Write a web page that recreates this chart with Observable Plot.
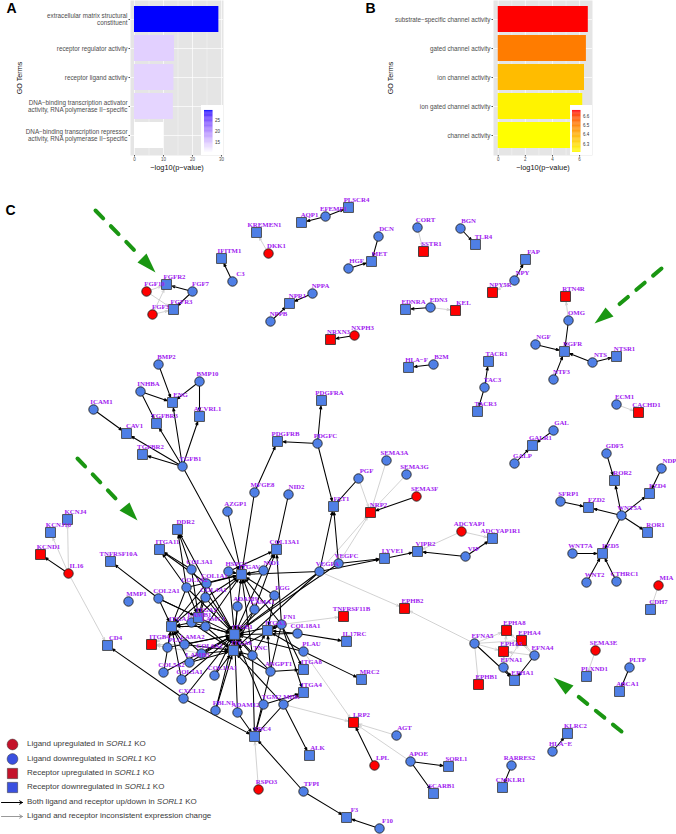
<!DOCTYPE html>
<html>
<head>
<meta charset="utf-8">
<script src="https://cdn.jsdelivr.net/npm/d3@7"></script>
<script src="https://cdn.jsdelivr.net/npm/@observablehq/plot@0.6"></script>
<style>
html,body{margin:0;padding:0;background:#fff;}
#page{position:relative;width:676px;height:834px;overflow:hidden;font-family:"Liberation Sans",Arial,sans-serif;}
#page svg{display:block;background:transparent;}
.abs{position:absolute;}
.lg{position:absolute;left:27px;font-size:7.97px;line-height:10px;color:#3a3a3a;white-space:nowrap;}
</style>
</head>
<body>
<div id="page"></div>
<script>
// ---------- Panel A ----------
const termsA = ["extracellular matrix structural\nconstituent","receptor regulator activity","receptor ligand activity","DNA\u2212binding transcription activator\nactivity, RNA polymerase II\u2212specific","DNA\u2212binding transcription repressor\nactivity, RNA polymerase II\u2212specific"];
const valuesA = [29.1,13.8,13.6,13.4,10.1];
const ticksA = [0,10,20,30];
const gridMinorA = [5,15,25];
const legendTicksA = [15,20,25];
// ---------- Panel B ----------
const termsB = ["substrate\u2212specific channel activity","gated channel activity","ion channel activity","ion gated channel activity","channel activity"];
const valuesB = [6.64,6.5,6.36,6.23,6.2];
const ticksB = [0,2,4,6];
const gridMinorB = [1,3,5];
const legendTicksB = [6.3,6.4,6.5,6.6];
// ---------- Panel C: nodes [name, x, y] ----------
const ligandsUp = [["FGF10",146,291],["FGF3",152,314],["DKK1",268,253],["NXPH3",354,335],["IL16",68,573],["SEMA3F",416,496],["ADCYAP1",461,531],["MIA",658,585],["SEMA3E",595,650],["LPL",374,765],["RSPO3",258,789]];
const ligandsDown = [["FGF7",192,291],["C3",232,281],["EFEMP1",325,216],["NPPA",312,293],["NPPB",270,321],["BMP2",158,364],["BMP10",199,381],["INHBA",140,391],["ICAM1",93,409],["TGFB1",182,466],["COL3A1",191,569],["COL1A1",206,583],["COL1A2",186,587],["COL2A1",158,598],["COL4A1",205,597],["MMP1",128,601],["HSPG2",228,571],["NID1",263,570],["AZGP1",227,511],["MFGE8",254,492],["NID2",288,494],["PDGFC",317,443],["PGF",358,478],["SEMA3A",386,460],["SEMA3G",406,474],["VEGFA",319,571],["VEGFC",338,563],["VIP",465,556],["FGG",274,595],["ADAM9",237,606],["LAMA1",254,609],["FN1",281,624],["LAMB1",191,622],["LAMC1",205,626],["LAMA2",184,644],["PLG",167,647],["COL6A2",201,653],["LAMB3",189,662],["COL5A2",163,672],["COL5A1",181,679],["COL11A1",214,675],["TNC",252,655],["ANGPT1",270,671],["COL18A1",297,633],["PLAU",303,651],["MDK",283,704],["TGM2",263,704],["ADAM12",237,712],["FBLN1",215,710],["CXCL12",183,698],["TFPI",303,791],["F10",379,828],["EFNA5",474,643],["EFNA4",534,655],["EFNA1",503,667],["PLTP",629,667],["HLA\u2212E",552,751],["RARRES2",511,765],["AGT",396,735],["APOE",410,761],["DCN",378,236],["HGF",348,268],["CORT",417,227],["BGN",460,228],["NPY",514,280],["OMG",568,320],["NGF",535,344],["NTF3",553,379],["NTS",592,362],["EDN3",430,307],["B2M",433,364],["TAC3",484,387],["ECM1",616,404],["GAL",553,430],["GALP",514,463],["GDF5",606,453],["NDP",661,468],["SFRP1",560,501],["WNT5A",621,515],["WNT7A",572,553],["WNT2",586,582],["CTHRC1",616,581]];
const receptorsUp = [["SSTR1",423,251],["NRXN3",330,339],["KEL",455,310],["NPY5R",492,292],["RTN4R",565,296],["CACHD1",638,412],["KCND1",40,554],["NRP2",370,512],["TNFRSF11B",343,616],["EPHB2",404,608],["ITGB4",151,644],["LRP2",353,722],["EPHA8",506,630],["EPHA4",521,640],["EPHA5",503,651],["EPHB1",478,684]];
const receptorsDown = [["FGFR2",166,284],["FGFR3",173,309],["KREMEN1",256,232],["IFITM1",221,258],["AQP1",301,222],["PLSCR4",348,207],["NPR1",289,303],["ENG",172,402],["PDGFRA",321,400],["ACVRL1",199,416],["TGFBR3",156,423],["CAV1",126,433],["TGFBR2",142,454],["KCNJ4",67,519],["KCNJ10",50,532],["TNFRSF10A",110,561],["DDR2",177,529],["ITGA11",159,549],["ITGAV",241,574],["COL13A1",276,549],["PDGFRB",277,441],["FLT1",333,506],["LYVE1",384,558],["VIPR2",417,551],["ADCYAP1R1",492,538],["ITGA2",198,617],["ITGA1",171,626],["ITGB1",234,634],["ITGA3",267,630],["ITGA6",233,650],["IL17RC",346,641],["MRC2",361,679],["ITGA8",303,669],["ITGA4",303,692],["SDC4",254,736],["ALK",309,755],["F3",346,817],["CD4",107,645],["EPHA1",514,680],["PLXND1",586,676],["ABCA1",619,691],["KLRC2",567,733],["CMKLR1",502,787],["SORL1",448,766],["SCARB1",433,793],["MET",371,261],["TLR4",475,244],["FAP",525,259],["NGFR",564,351],["NTSR1",616,356],["EDNRA",405,309],["HLA\u2212F",408,367],["TACR1",488,361],["TACR3",477,411],["GALR1",532,445],["ROR2",614,480],["FZD4",649,493],["FZD2",588,507],["ROR1",647,532],["FZD5",602,553],["CDH7",650,609]];
// ---------- Panel C: interactions [ligand, receptors] ----------
const consistentLinks = [["FGF7","FGFR2 FGFR3"],["C3","IFITM1"],["EFEMP1","AQP1 PLSCR4"],["NPPA","NPR1"],["NPPB","NPR1"],["NXPH3","NRXN3"],["BMP2","ENG"],["BMP10","ENG ACVRL1"],["INHBA","ENG TGFBR3"],["ICAM1","CAV1"],["TGFB1","ENG TGFBR3 ACVRL1 CAV1 TGFBR2 ITGAV"],["PDGFC","PDGFRA PDGFRB FLT1"],["MFGE8","PDGFRB ITGAV"],["AZGP1","ITGAV"],["NID2","COL13A1"],["PGF","FLT1"],["SEMA3F","NRP2"],["VEGFA","ITGAV FLT1 LYVE1 ITGB1 ITGA6"],["VEGFC","FLT1 LYVE1 ITGB1"],["LYVE1","VIPR2"],["VIP","VIPR2 ADCYAP1R1"],["GDF5","ROR2"],["WNT5A","ROR2 FZD4 FZD2 ROR1 FZD5"],["NDP","FZD4"],["SFRP1","FZD2"],["WNT7A","FZD5"],["WNT2","FZD5"],["CTHRC1","FZD5"],["GAL","GALR1"],["GALP","GALR1"],["DCN","MET"],["HGF","MET"],["BGN","TLR4"],["NPY","FAP"],["OMG","NGFR"],["NGF","NGFR"],["NTF3","NGFR"],["NTS","NGFR NTSR1"],["EDN3","EDNRA"],["B2M","HLA\u2212F"],["TAC3","TACR1 TACR3"],["IL16","KCND1"],["TFPI","SDC4 F3"],["F10","F3"],["LPL","LRP2"],["APOE","SORL1 SCARB1"],["EFNA5","EPHA1"],["EFNA1","EPHA1"],["EFNA4","EPHA1"],["PLTP","ABCA1"],["HLA\u2212E","KLRC2"],["RARRES2","CMKLR1"],["COL3A1","DDR2 ITGA11 ITGB1 ITGA2"],["COL1A1","DDR2 ITGA11 ITGAV ITGB1 ITGA2 ITGA1"],["COL1A2","DDR2 ITGA11 ITGAV ITGB1 ITGA2 ITGA1"],["COL2A1","TNFRSF10A ITGA1 ITGA2 ITGB1"],["COL4A1","ITGAV ITGB1 ITGA2 ITGA1"],["HSPG2","ITGAV ITGB1 COL13A1"],["NID1","ITGAV ITGB1 COL13A1"],["ADAM9","ITGAV ITGB1 ITGA6"],["LAMA1","ITGAV ITGB1 ITGA6 COL13A1"],["LAMB1","ITGA1 ITGA2 ITGB1 ITGA6 ITGAV"],["LAMC1","ITGA1 ITGA2 ITGB1 ITGA6 ITGAV"],["FGG","ITGAV ITGB1 ITGA3"],["FN1","ITGAV ITGB1 ITGA3 ITGA4 ITGA8 SDC4 COL13A1 ITGA6"],["PLAU","ITGB1 ITGA3 MRC2"],["COL18A1","ITGB1 ITGA3 IL17RC"],["LAMA2","ITGB1 ITGA1 ITGA6"],["PLG","ITGB1 ITGA1"],["COL6A2","ITGB1 ITGA1 ITGA6"],["LAMB3","ITGB1 ITGA1 ITGA6"],["COL5A2","ITGA1 ITGB1"],["COL5A1","ITGA1 ITGB1"],["COL11A1","ITGB1 ITGA6"],["TNC","ITGB1 ITGAV ITGA6 SDC4 ITGA3"],["ANGPT1","ITGB1 ITGA3 ITGA6 ITGA8"],["CXCL12","ITGB1 SDC4 CD4"],["FBLN1","ITGA6 ITGB1"],["ADAM12","ITGB1 SDC4"],["TGM2","ITGA4 ITGB1 SDC4"],["MDK","ITGA4 ITGA6 SDC4 ALK"]];
const inconsistentLinks = [["FGF10","FGFR2 FGFR3"],["FGF3","FGFR2 FGFR3"],["DKK1","KREMEN1"],["CORT","SSTR1"],["NPY","NPY5R"],["OMG","RTN4R"],["EDN3","KEL"],["ECM1","CACHD1"],["IL16","KCNJ4 KCNJ10 CD4"],["MIA","CDH7"],["SEMA3E","PLXND1"],["PGF","NRP2"],["SEMA3A","NRP2"],["SEMA3G","NRP2"],["VEGFA","NRP2 EPHB2"],["VEGFC","NRP2"],["EFNA5","EPHB2 EPHA8 EPHA4 EPHA5 EPHB1"],["EFNA1","EPHA8 EPHA4 EPHA5"],["EFNA4","EPHA8 EPHA4 EPHA5"],["ADCYAP1","ADCYAP1R1 VIPR2"],["RSPO3","SDC4"],["MDK","LRP2"],["PLAU","LRP2"],["AGT","LRP2"],["APOE","LRP2"],["FN1","TNFRSF11B"],["LAMA2","ITGB4"],["PLG","ITGB4"],["LAMB1","ITGB4"],["COL6A2","ITGB4"]];
// ---------- Annotations and legend ----------
const greenDashes = [["a",95,210],["a",137,253],["b",661,268],["b",615,307],["c",77,458],["c",119,502],["d",621,731],["d",574,693]];
const greenHeads = [["a",137,262],["a",146,253],["a",155,272],["b",594,323],["b",605,307],["b",613,316],["c",119,510],["c",129,502],["c",137,520],["d",553,677],["d",573,685],["d",565,694]];
const legendLabels = [["Ligand upregulated in ","SORL1"," KO"],["Ligand downregulated in ","SORL1"," KO"],["Receptor upregulated in ","SORL1"," KO"],["Receptor downregulated in ","SORL1"," KO"],["Both ligand and receptor up/down in ","SORL1"," KO"],["Ligand and receptor inconsistent expression change","",""]];
const legendRows = [744,758.5,773,787,802,816];

const sans = '"Liberation Sans",Arial,sans-serif';
const page = document.getElementById("page");
function place(el,left,top){el.classList.add("abs");el.style.left=left+"px";el.style.top=top+"px";page.appendChild(el);}

function colorbar(ticks,domain,colorDomain,range,fmt,mL){
  const lo=domain[0],hi=domain[1],step=(hi-lo)/50;
  return Plot.plot({
    width:22,height:50,marginTop:5,marginBottom:3,marginLeft:mL,marginRight:22-mL-8.5,
    style:{background:"#fff"},
    x:{domain:[0,1],axis:null},
    y:{domain,axis:null},
    color:{type:"linear",domain:colorDomain,range,interpolate:"lab",clamp:true},
    marks:[
      Plot.rect(d3.range(50).map(i=>lo+i*step),{x1:0,x2:1,y1:d=>d,y2:d=>d+step*1.05,fill:d=>d}),
      Plot.axisY({anchor:"right",ticks,tickSize:0,tickPadding:2,tickFormat:fmt,fontSize:4.5,fontFamily:sans,color:"#333",label:null})
    ]
  });
}

function barPanel({terms,values,ticks,minor,xDomain,width,marginLeft,titleX,letter,letterDx,colorDomain,colorRange}){
  const rows=terms.map((t,i)=>({t,v:values[i]}));
  return Plot.plot({
    width,height:172,marginTop:0,marginBottom:17,marginLeft,marginRight:0,
    style:{background:"transparent",overflow:"visible"},
    x:{domain:xDomain,axis:null},
    y:{domain:terms,paddingInner:0.1,paddingOuter:0.15,axis:null},
    color:{type:"linear",domain:colorDomain,range:colorRange,interpolate:"lab",clamp:true},
    marks:[
      Plot.frame({fill:"#e5e5e5",stroke:"none"}),
      Plot.ruleX(minor,{stroke:"#fff",strokeWidth:0.35}),
      Plot.ruleX(ticks,{stroke:"#fff",strokeWidth:0.7}),
      Plot.ruleY(terms,{stroke:"#fff",strokeWidth:0.7}),
      Plot.barX(rows,{x:"v",y:"t",fill:"v"}),
      Plot.axisX({ticks,tickSize:1.5,tickPadding:1,fontSize:4.5,fontFamily:sans,color:"#4d4d4d",stroke:"#555",label:null}),
      Plot.axisY({tickSize:1.5,tickPadding:1.5,fontSize:6.3,lineHeight:1.15,fontFamily:sans,color:"#4d4d4d",stroke:"#555",label:null}),
      Plot.text(["GO Terms"],{frameAnchor:"left",dx:titleX-marginLeft,rotate:-90,textAnchor:"middle",text:d=>d,fontSize:7.2,fontFamily:sans,fill:"#111"}),
      Plot.text(["\u2212log10(p\u2212value)"],{frameAnchor:"bottom",lineAnchor:"middle",dy:12,text:d=>d,fontSize:7.4,fontFamily:sans,fill:"#111"}),
      Plot.text([letter],{frameAnchor:"top-left",dx:letterDx,dy:3,text:d=>d,fontSize:14,fontWeight:700,fontFamily:sans,fill:"#000",lineAnchor:"top"})
    ]
  });
}

place(barPanel({terms:termsA,values:valuesA,ticks:ticksA,minor:gridMinorA,xDomain:[-1.38,30.7],width:223,marginLeft:130,titleX:19,letter:"A",letterDx:-124,colorDomain:[10.1,29.1],colorRange:["#ffffff","#0000ff"]}),0,0);
place(barPanel({terms:termsB,values:valuesB,ticks:ticksB,minor:gridMinorB,xDomain:[-0.35,6.95],width:252,marginLeft:153,titleX:50,letter:"B",letterDx:-128,colorDomain:[6.2,6.64],colorRange:["#ffff00","#ff0000"]}),340,0);
place(colorbar(legendTicksA,[10.5,29.5],[10.1,29.1],["#ffffff","#0000ff"],d3.format("d"),3),201,105);
place(colorbar(legendTicksB,[6.21,6.66],[6.2,6.64],["#ffff00","#ff0000"],d3.format(".1f"),2),570,105);

// ---------- Panel C ----------
const toNode=([name,x,y])=>({name,x,y});
const allNodes=[...ligandsUp,...ligandsDown,...receptorsUp,...receptorsDown].map(toNode);
const byName=new Map(allNodes.map(n=>[n.name,n]));
const expand=list=>list.flatMap(([l,rs])=>rs.split(" ").map(r=>({a:byName.get(l),b:byName.get(r)}))).filter(e=>e.a&&e.b);
const linksK=expand(consistentLinks), linksG=expand(inconsistentLinks);
const edgeOpts={x1:d=>d.a.x,y1:d=>d.a.y,x2:d=>d.b.x,y2:d=>d.b.y,insetEnd:5.5,headAngle:40};
const pt={x:d=>d[1],y:d=>d[2],z:d=>d[0]};
const nodeXY={x:"x",y:"y"};
const CIRCLE_R=4.7,SQUARE_R=5.6;
const swCircle=[["#c4122a",12,744],["#3a50e0",12,758.5]];
const swSquare=[["#c4122a",12,773],["#3a50e0",12,787]];

const net=Plot.plot({
  width:676,height:662,margin:0,
  style:{background:"transparent",overflow:"visible"},
  x:{domain:[0,676],range:[0,676],axis:null},
  y:{domain:[172,834],range:[0,662],axis:null},
  marks:[
    Plot.arrow(linksG,{...edgeOpts,stroke:"#c6c6c6",strokeWidth:0.8,headLength:6}),
    Plot.arrow(linksK,{...edgeOpts,stroke:"#000",strokeWidth:1.05,headLength:4.5}),
    Plot.line(greenDashes,{...pt,stroke:"#1a9612",strokeWidth:4,strokeDasharray:"11,11",strokeLinecap:"round",curve:"linear"}),
    Plot.line(greenHeads,{...pt,fill:"#1a9612",stroke:"none",curve:"linear-closed"}),
    Plot.dot(ligandsDown.map(toNode),{...nodeXY,r:CIRCLE_R,fill:"#4f7fe6",stroke:"#222",strokeWidth:0.9}),
    Plot.dot(ligandsUp.map(toNode),{...nodeXY,r:CIRCLE_R,fill:"#ff0000",stroke:"#222",strokeWidth:0.9}),
    Plot.dot(receptorsDown.map(toNode),{...nodeXY,r:SQUARE_R,symbol:"square",fill:"#4f7fe6",stroke:"#444",strokeWidth:0.9}),
    Plot.dot(receptorsUp.map(toNode),{...nodeXY,r:SQUARE_R,symbol:"square",fill:"#ff0000",stroke:"#333",strokeWidth:0.9}),
    Plot.text(allNodes,{...nodeXY,text:"name",dx:8,dy:-8,fill:"#a020f0",fontSize:6.8,fontWeight:700,fontFamily:'"Liberation Serif",serif'}),
    Plot.dot(swCircle,{x:d=>d[1],y:d=>d[2],r:5.4,fill:d=>d[0],stroke:"#333",strokeWidth:0.5}),
    Plot.dot(swSquare,{x:d=>d[1],y:d=>d[2],r:5.8,symbol:"square",fill:d=>d[0],stroke:"#333",strokeWidth:0.5}),
    Plot.arrow([[1,802,22,802]],{x1:d=>d[0],y1:d=>d[1],x2:d=>d[2],y2:d=>d[3],stroke:"#000",strokeWidth:1,headLength:5}),
    Plot.arrow([[1,816,22,816]],{x1:d=>d[0],y1:d=>d[1],x2:d=>d[2],y2:d=>d[3],stroke:"#999",strokeWidth:1,headLength:5}),
    Plot.text(["C"],{x:()=>5,y:()=>210,text:d=>d,textAnchor:"start",fontSize:14,fontWeight:700,fontFamily:sans,fill:"#000"})
  ]
});
place(net,0,172);

legendLabels.forEach((l,i)=>{
  const d=document.createElement("div");
  d.className="lg";
  d.style.top=(legendRows[i]-5)+"px";
  d.append(l[0]);
  if(l[1]){const it=document.createElement("i");it.textContent=l[1];d.append(it);d.append(l[2]);}
  page.appendChild(d);
});
</script>
</body>
</html>
